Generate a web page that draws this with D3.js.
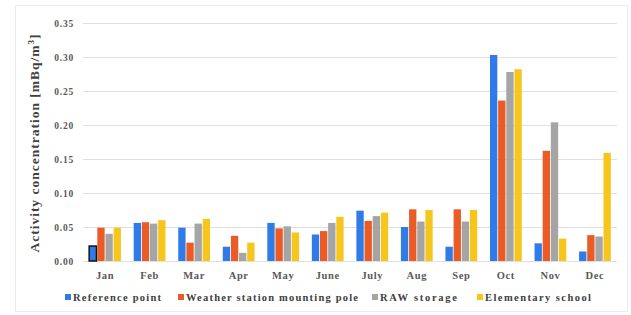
<!DOCTYPE html>
<html>
<head>
<meta charset="utf-8">
<script src="https://cdn.jsdelivr.net/npm/d3@7"></script>
<style>
	body { margin: 0; background: #fff; }
	svg text { font-family: 'Liberation Serif', 'DejaVu Serif', 'Times New Roman', serif !important; font-weight: bold; }
</style>
</head>
<body>
<svg id="chart" width="631" height="315"></svg>
<script>
const months = ['Jan', 'Feb', 'Mar', 'Apr', 'May', 'June', 'July', 'Aug', 'Sep', 'Oct', 'Nov', 'Dec'];
const seriesNames = ['Reference point', 'Weather station mounting pole', 'RAW storage', 'Elementary school'];
const colors = ['#2f7be8', '#ea5b25', '#a5a5a5', '#f7c61c'];

const referencePoint = [0.022, 0.056, 0.049, 0.021, 0.056, 0.039, 0.074, 0.050, 0.021, 0.303, 0.026, 0.014];
const weatherPole = [0.049, 0.057, 0.027, 0.037, 0.048, 0.044, 0.059, 0.076, 0.076, 0.236, 0.162, 0.038];
const rawStorage = [0.040, 0.055, 0.055, 0.012, 0.051, 0.056, 0.066, 0.058, 0.058, 0.278, 0.204, 0.036];
const elementarySchool = [0.049, 0.060, 0.062, 0.027, 0.042, 0.065, 0.071, 0.075, 0.075, 0.282, 0.033, 0.159];

const yTicks = [0, 0.05, 0.10, 0.15, 0.20, 0.25, 0.30, 0.35];

const series = [referencePoint, weatherPole, rawStorage, elementarySchool];

const FONT = "'Liberation Serif', 'DejaVu Serif', serif";

const svg = d3.select('#chart');
const margin = { left: 83, right: 14, top: 23, bottom: 54 };
const width = 631;
const height = 315;

// faint outer frame
svg.append('rect')
	.attr('x', 15.5).attr('y', 5.5)
	.attr('width', 612).attr('height', 306)
	.attr('fill', 'none')
	.attr('stroke', '#ececec');

const x = d3.scaleBand()
	.domain(months)
	.range([margin.left, width - margin.right])
	.paddingInner(0.25)
	.paddingOuter(0.12);

const x1 = d3.scaleBand()
	.domain(d3.range(series.length))
	.range([0, x.bandwidth()])
	.padding(0.1);

const y = d3.scaleLinear()
	.domain([0, 0.35])
	.range([height - margin.bottom, margin.top]);

// gridlines
svg.append('g')
	.selectAll('line')
	.data(yTicks)
	.join('line')
	.attr('x1', margin.left)
	.attr('x2', width - margin.right)
	.attr('y1', d => Math.round(y(d)) + 0.5)
	.attr('y2', d => Math.round(y(d)) + 0.5)
	.attr('stroke', '#e0e0e0')
	.attr('stroke-width', 1);

// y axis labels
const yAxis = svg.append('g')
	.attr('transform', `translate(${margin.left - 9},0)`)
	.call(d3.axisLeft(y).tickValues(yTicks).tickFormat(d3.format('.2f')).tickSize(0).tickPadding(0))
	.attr('font-family', FONT);
yAxis.select('.domain').remove();
yAxis.selectAll('text')
	.attr('fill', '#595959')
	.attr('font-size', 9.5)
	.attr('letter-spacing', 0.8);

// bars
const groups = svg.append('g')
	.selectAll('g')
	.data(months)
	.join('g')
	.attr('transform', d => `translate(${x(d)},0)`);

groups.selectAll('rect')
	.data((m, i) => series.map((s, k) => ({ k, v: s[i], m })))
	.join('rect')
	.attr('x', d => x1(d.k))
	.attr('width', x1.bandwidth())
	.attr('y', d => y(d.v))
	.attr('height', d => y(0) - y(d.v))
	.attr('fill', d => colors[d.k])
	.attr('stroke', d => (d.m === 'Jan' && d.k === 0 ? '#111' : 'none'))
	.attr('stroke-width', 1.5);

// x axis labels
const xAxis = svg.append('g')
	.attr('transform', `translate(0,${height - margin.bottom})`)
	.call(d3.axisBottom(x).tickSize(0).tickPadding(11))
	.attr('font-family', FONT);
xAxis.select('.domain').remove();
xAxis.selectAll('text')
	.attr('fill', '#595959')
	.attr('font-size', 10.5)
	.attr('letter-spacing', 0.6);

// y title
svg.append('text')
	.attr('transform', `translate(39,143) rotate(-90)`)
	.attr('text-anchor', 'middle')
	.attr('fill', '#404040')
	.attr('font-family', FONT)
	.attr('font-size', 13.5)
	.attr('letter-spacing', 1)
	.html('Activity concentration [mBq/m<tspan font-size="9" dy="-5">3</tspan><tspan dy="5">]</tspan>');

// legend
const legendX = [65, 178, 372, 477];
const legendW = [88, 172, 77, 106];
const legend = svg.append('g')
	.selectAll('g')
	.data(seriesNames)
	.join('g')
	.attr('transform', (d, i) => `translate(${legendX[i]},298)`);

legend.append('rect')
	.attr('x', 0).attr('y', -4)
	.attr('width', 6).attr('height', 6)
	.attr('fill', (d, i) => colors[i]);

legend.append('text')
	.attr('x', 8)
	.attr('y', 3)
	.attr('fill', '#404040')
	.attr('font-family', FONT)
	.attr('font-size', 10.5)
	.attr('textLength', (d, i) => legendW[i])
	.attr('lengthAdjust', 'spacing')
	.text(d => d);
</script>
</body>
</html>
